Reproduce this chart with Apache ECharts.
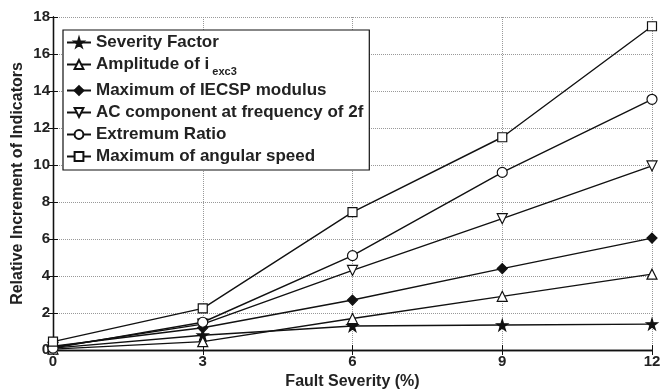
<!DOCTYPE html>
<html>
<head>
<meta charset="utf-8">
<script src="https://cdn.jsdelivr.net/npm/echarts@6/dist/echarts.min.js"></script>
<style>html,body{margin:0;padding:0;background:#fff;}#c{width:660px;height:389px;}</style>
</head>
<body>
<div id="c"></div>
<script>
const severity = [0, 3, 6, 9, 12];
const seriesNames = ['Severity Factor', 'Amplitude of i', 'Maximum of IECSP modulus', 'AC component at frequency of 2f', 'Extremum Ratio', 'Maximum of angular speed'];
const severityFactor = [0.1, 0.8, 1.3, 1.35, 1.4];
const amplitudeExc3 = [0.05, 0.45, 1.7, 2.9, 4.1];
const maxIECSP = [0.2, 1.2, 2.7, 4.4, 6.05];
const acComponent2f = [0.15, 1.4, 4.3, 7.1, 9.95];
const extremumRatio = [0.1, 1.5, 5.1, 9.6, 13.55];
const maxAngularSpeed = [0.45, 2.25, 7.45, 11.5, 17.5];
const xTicks = [0, 3, 6, 9, 12];

const star = 'path://M50,0 L61,35 L98,35 L68,57 L79,91 L50,70 L21,91 L32,57 L2,35 L39,35 Z';
const downTri = 'path://M0,0 L10,0 L5,9 Z';
const FONT = '"Liberation Sans", Arial, sans-serif';
const TXT = '#222';

function mk(name, data, symbol, filled, size) {
  return {
    name: name, type: 'line',
    data: severity.map((x, i) => [x, data[i]]),
    symbol: symbol, symbolSize: size, showSymbol: true,
    lineStyle: { color: '#111', width: 1.4 },
    itemStyle: { color: filled ? '#111' : '#fff', borderColor: '#111', borderWidth: 1.2 },
    emphasis: { disabled: true }, animation: false
  };
}

const chart = echarts.init(document.getElementById('c'), null, { renderer: 'canvas' });
chart.setOption({
  backgroundColor: '#fff',
  animation: false,
  textStyle: { fontFamily: FONT },
  grid: { left: 53, right: 8, top: 17, bottom: 39, show: false, containLabel: false, outerBoundsMode: 'none' },
  legend: {
    orient: 'vertical', left: 63, top: 30,
    backgroundColor: '#fff', borderColor: '#111', borderWidth: 1.2,
    padding: [4, 6, 5, 3], itemGap: 5, itemWidth: 24, itemHeight: 11,
    data: seriesNames,
    textStyle: {
      fontFamily: FONT, fontSize: 17, fontWeight: 'bold', color: TXT,
      rich: {
        a: { fontFamily: FONT, fontSize: 17, fontWeight: 'bold', color: TXT },
        s: { fontFamily: FONT, fontSize: 11, fontWeight: 'bold', color: TXT, padding: [14, 0, 0, 3] }
      }
    },
    formatter: function (n) { return n === 'Amplitude of i' ? '{a|Amplitude of i}{s|exc3}' : n; }
  },
  xAxis: [{
    type: 'value', min: 0, max: 12, interval: 3,
    name: 'Fault Severity (%)', nameLocation: 'middle', nameGap: 21,
    nameTextStyle: { fontFamily: FONT, fontSize: 16, fontWeight: 'bold', color: TXT },
    axisLine: { onZero: false, lineStyle: { color: '#111', width: 1.3 } },
    axisTick: { inside: true, length: 5, lineStyle: { color: '#111' } },
    axisLabel: { fontFamily: FONT, fontSize: 15, fontWeight: 'bold', color: TXT, margin: 4,
      customValues: xTicks },
    splitLine: { show: true, lineStyle: { type: 'dotted', color: '#999', width: 1 } }
  }, {
    type: 'value', position: 'top', min: 0, max: 12, interval: 3,
    axisLine: { show: true, lineStyle: { color: '#111', width: 1.3 } },
    axisTick: { inside: true, length: 5, lineStyle: { color: '#111' } },
    axisLabel: { show: false }, splitLine: { show: false }
  }],
  yAxis: [{
    type: 'value', min: 0, max: 18, interval: 2,
    name: 'Relative Increment of Indicators', nameLocation: 'middle', nameGap: 27,
    nameMoveOverlap: false,
    nameTextStyle: { fontFamily: FONT, fontSize: 16, fontWeight: 'bold', color: TXT },
    axisLine: { show: true, onZero: false, lineStyle: { color: '#111', width: 1.3 } },
    axisTick: { show: true, inside: true, length: 5, lineStyle: { color: '#111' } },
    axisLabel: { fontFamily: FONT, fontSize: 15, fontWeight: 'bold', color: TXT, margin: 3 },
    splitLine: { show: true, lineStyle: { type: 'dotted', color: '#999', width: 1 } }
  }, {
    type: 'value', position: 'right', min: 0, max: 18, interval: 2,
    axisLine: { show: true, lineStyle: { color: '#111', width: 1.3 } },
    axisTick: { show: true, inside: true, length: 5, lineStyle: { color: '#111' } },
    axisLabel: { show: false }, splitLine: { show: false }
  }],
  series: [
    mk(seriesNames[0], severityFactor, star, true, 11),
    mk(seriesNames[1], amplitudeExc3, 'triangle', false, 10),
    mk(seriesNames[2], maxIECSP, 'diamond', true, 10),
    mk(seriesNames[3], acComponent2f, downTri, false, 10),
    mk(seriesNames[4], extremumRatio, 'circle', false, 10),
    mk(seriesNames[5], maxAngularSpeed, 'rect', false, 9)
  ]
});
</script>
</body>
</html>
